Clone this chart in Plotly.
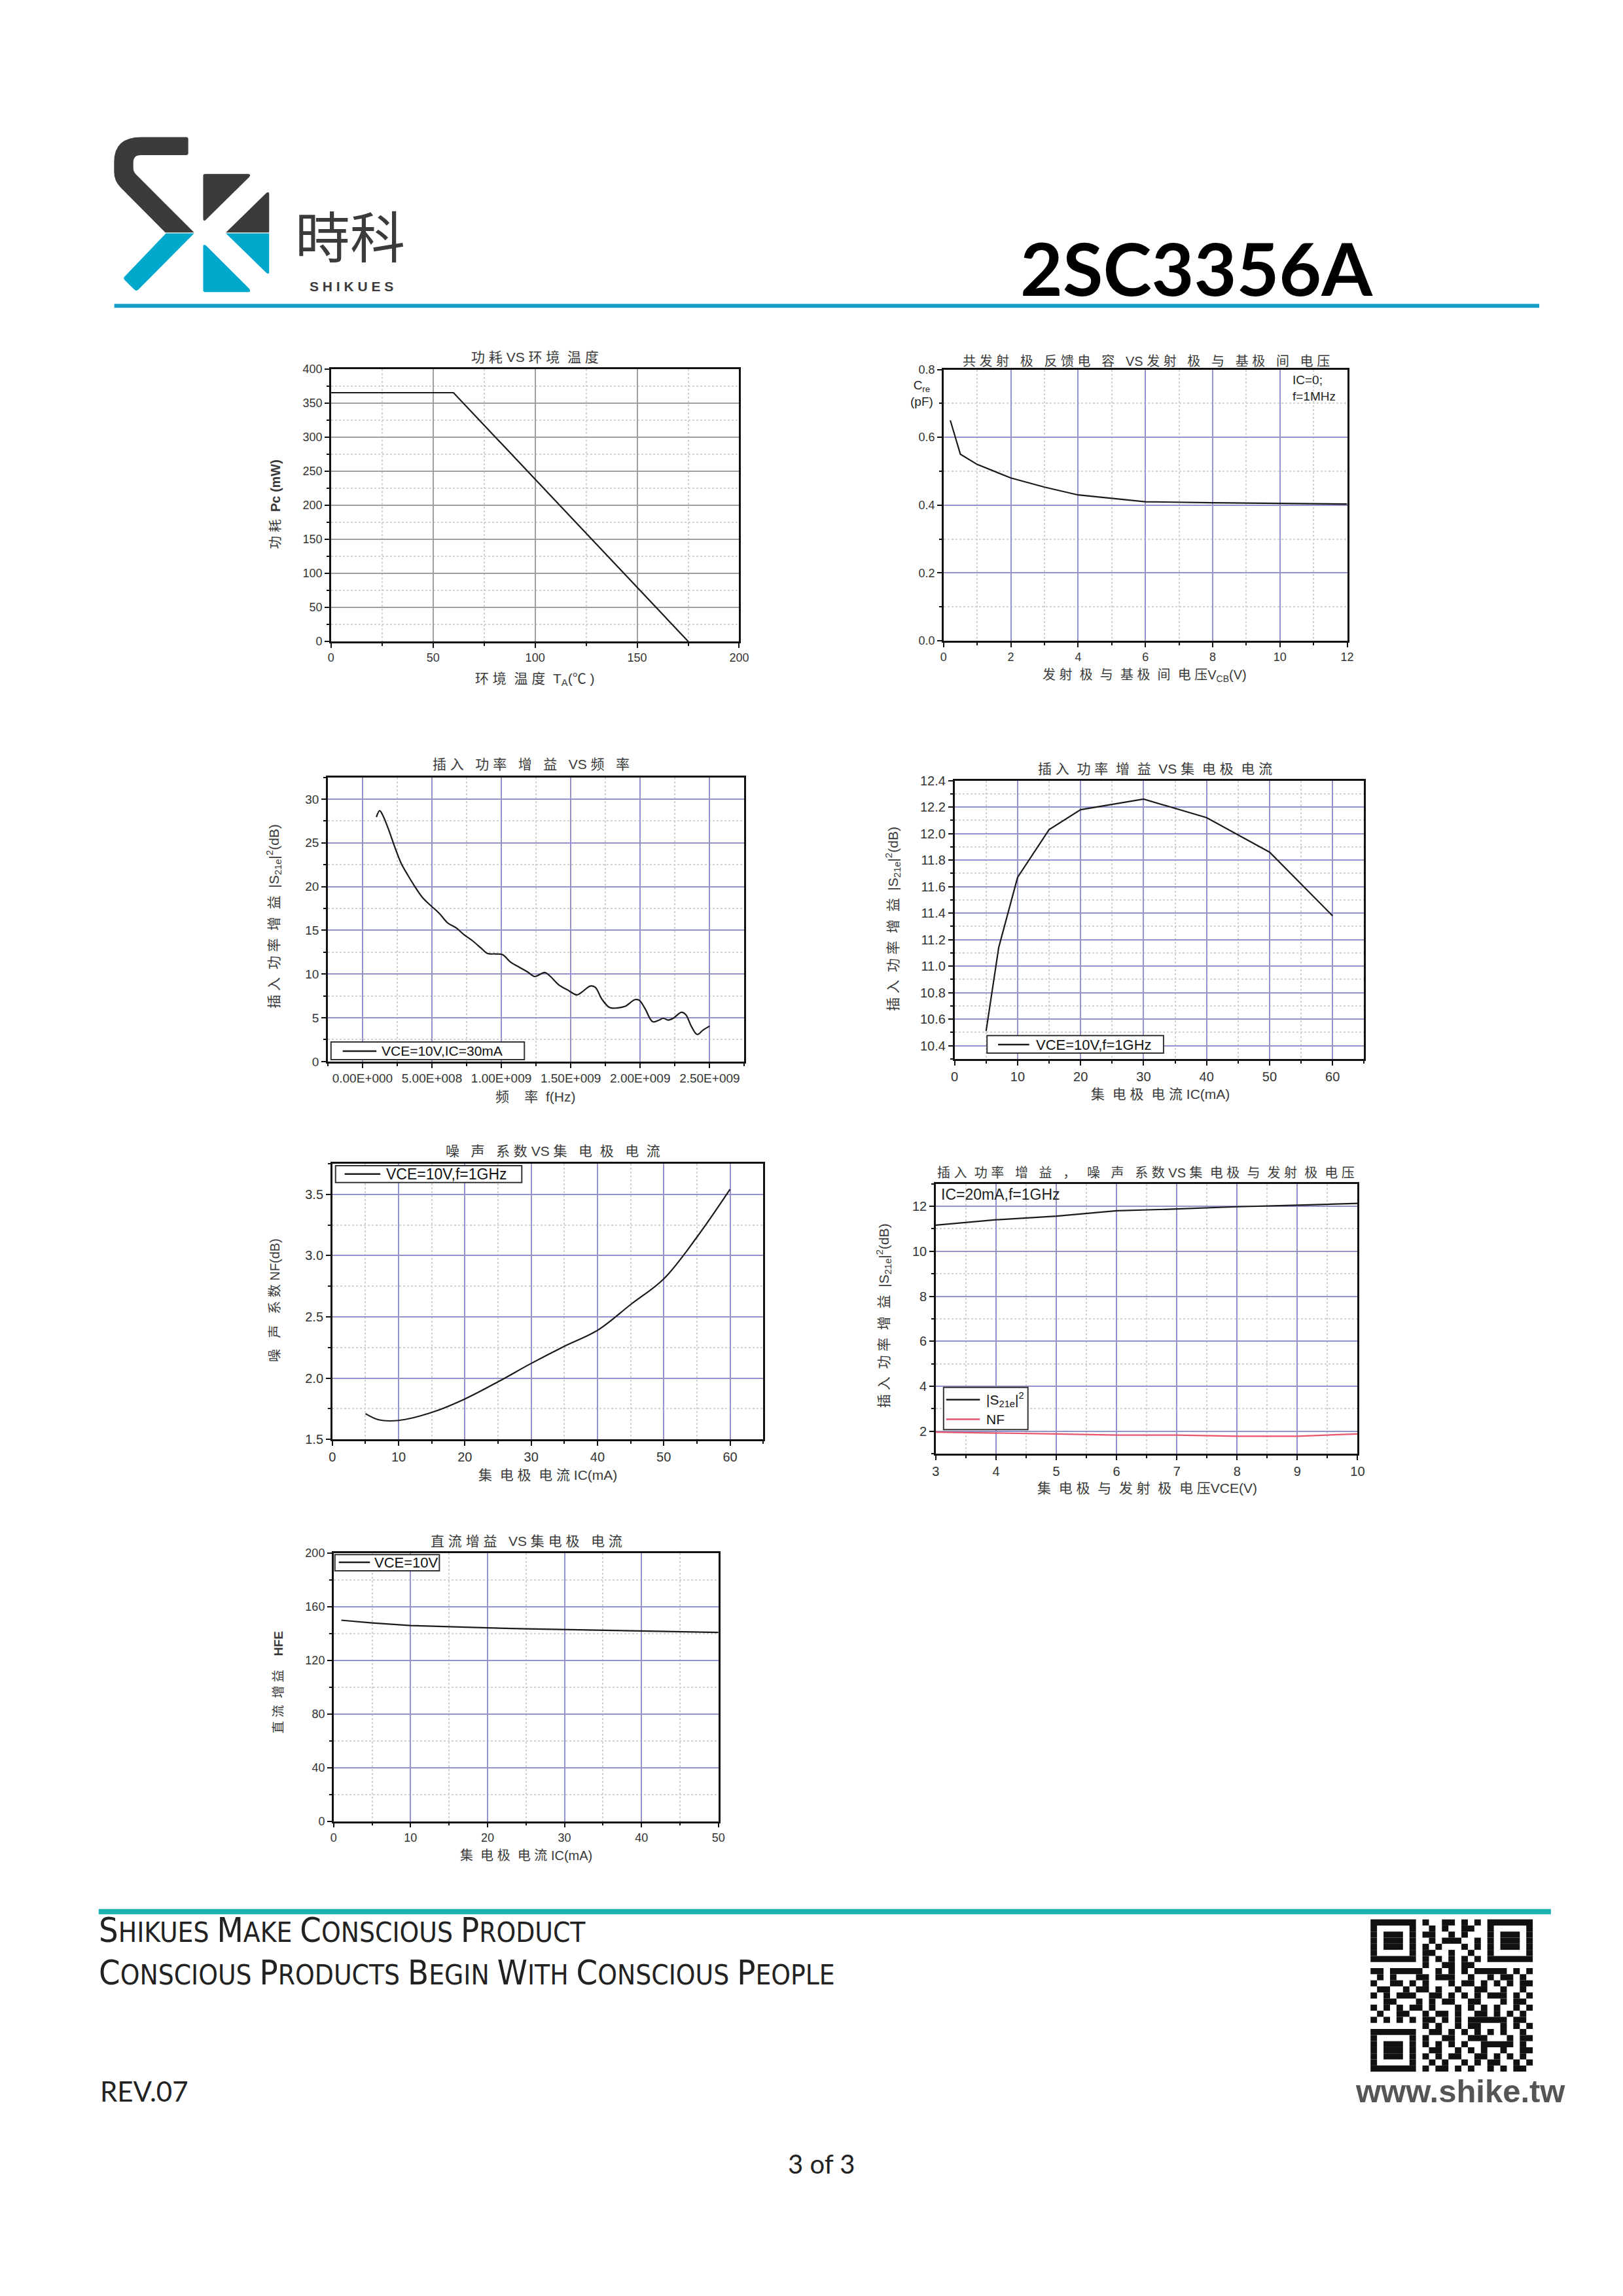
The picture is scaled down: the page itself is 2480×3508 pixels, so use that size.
import plotly.graph_objects as go

W, H = 2480, 3508
LATIN = "Liberation Sans, Arial, sans-serif"
CJK = "Liberation Sans, Noto Sans CJK SC, sans-serif"
NARROW = "Liberation Sans Narrow, Arial Narrow, DejaVu Sans Condensed, sans-serif"
DARK = "#3c3a3a"
CYAN = "#00a9cb"


def px(x):
    return x / W


def py(y):
    return 1 - y / H


# ---------------- data ----------------
ta_c = [0, 60, 175]
pc_mw = [365, 365, 0]

vcb_v = [0.2, 0.5, 1, 2, 3, 4, 5, 6, 8, 10, 12]
cre_pf = [0.65, 0.55, 0.52, 0.48, 0.453, 0.43, 0.42, 0.41, 0.407, 0.405, 0.403]

freq_hz = [1.0e8, 1.24e8, 1.48e8, 1.84e8, 2.32e8, 2.79e8, 3.27e8, 3.75e8, 4.35e8, 4.94e8,
           5.54e8, 6.14e8, 6.73e8, 7.33e8, 7.93e8, 8.53e8, 9.0e8, 9.6e8, 1.008e9, 1.067e9,
           1.127e9, 1.187e9, 1.239e9, 1.27e9, 1.313e9, 1.354e9, 1.414e9, 1.473e9, 1.545e9, 1.581e9,
           1.64e9, 1.676e9, 1.724e9, 1.779e9, 1.832e9, 1.891e9, 1.963e9, 1.994e9, 2.035e9, 2.09e9,
           2.137e9, 2.166e9, 2.202e9, 2.238e9, 2.297e9, 2.328e9, 2.369e9, 2.41e9, 2.452e9, 2.5e9]
gain_f_db = [27.95, 28.69, 28.1, 26.7, 24.55, 22.65, 21.3, 20.06, 18.7, 17.8,
             16.93, 15.84, 15.3, 14.48, 13.8, 12.98, 12.36, 12.3, 12.22, 11.35,
             10.8, 10.26, 9.72, 9.9, 10.18, 9.72, 8.76, 8.22, 7.62, 7.95,
             8.63, 8.49, 7.13, 6.18, 6.12, 6.31, 7.08, 7.0, 6.04, 4.55,
             4.74, 4.95, 4.74, 4.95, 5.63, 5.36, 4.0, 3.1, 3.59, 4.06]
freq_tickvals = [0, 5e8, 1e9, 1.5e9, 2e9, 2.5e9]
freq_ticktext = ["0.00E+000", "5.00E+008", "1.00E+009", "1.50E+009", "2.00E+009", "2.50E+009"]

ic_gain_ma = [5, 7, 10, 15, 20, 30, 40, 50, 60]
gain_ic_db = [10.51, 11.14, 11.67, 12.03, 12.18, 12.26, 12.12, 11.86, 11.38]

ic_nf_ma = [5, 7, 10, 15, 20, 25, 30, 35, 40, 45, 50, 55, 60]
nf_db = [1.71, 1.66, 1.655, 1.72, 1.83, 1.97, 2.12, 2.26, 2.39, 2.60, 2.81, 3.15, 3.54]

vce_v = [3, 4, 5, 6, 7, 8, 9, 10]
s21_vce_db = [11.16, 11.40, 11.56, 11.80, 11.88, 11.98, 12.05, 12.13]
nf_vce_db = [1.96, 1.93, 1.88, 1.83, 1.83, 1.78, 1.78, 1.88]

ic_hfe_ma = [1, 5, 10, 15, 20, 25, 30, 35, 40, 45, 50]
hfe = [150, 148, 146, 145, 144.3, 143.6, 143.1, 142.7, 142.1, 141.5, 140.9]

NF_RED = "#e8546c"

# ---------------- panel boxes (page pixels: left, top, right, bottom) ----------------
panels = [
    (496, 548, 1125, 967),
    (1440, 549, 2062, 966),
    (491, 1176, 1133, 1613),
    (1457, 1181, 2088, 1609),
    (498, 1770, 1162, 2194),
    (1428, 1801, 2078, 2216),
    (500, 2369, 1093, 2781),
]

BLUE_GRID = "#9393cc"
axes = [
    # x: range, dtick, minor ; y: range, dtick, minor, tick0, fmt ; grid ; font size
    dict(x=([0, 200], 50, 25), y=([0, 400], 50, 25, 0, None), grid="#a0a0a0", fs=18),
    dict(x=([0, 12], 2, 1), y=([0, 0.8], 0.2, 0.1, 0, ".1f"), grid=BLUE_GRID, fs=18),
    dict(x=([-2.5e8, 2.75e9], None, 2.5e8), y=([0, 32.5], 5, 2.5, 0, None), grid=BLUE_GRID, fs=19),
    dict(x=([0, 65], 10, 5), y=([10.3, 12.4], 0.2, 0.1, 10.4, ".1f"), grid=BLUE_GRID, fs=20),
    dict(x=([0, 65], 10, 5), y=([1.5, 3.75], 0.5, 0.25, 1.5, ".1f"), grid=BLUE_GRID, fs=20),
    dict(x=([3, 10], 1, 0.5), y=([1, 13], 2, 1, 2, None), grid=BLUE_GRID, fs=20),
    dict(x=([0, 50], 10, 5), y=([0, 200], 40, 20, 0, None), grid=BLUE_GRID, fs=18),
]


def axis(rng, dtick, minor, grid, fs, domain, anchor, tick0=0, fmt=None):
    a = dict(
        domain=domain, anchor=anchor, range=rng, showline=True, mirror=True,
        linecolor="#111", linewidth=2.5, ticks="outside", ticklen=7, tickwidth=2,
        tickcolor="#111", showgrid=True, gridcolor=grid, gridwidth=1.5, zeroline=False,
        tickfont=dict(family=LATIN, size=fs, color="#333"), fixedrange=True,
        minor=dict(tickmode="linear", tick0=0, dtick=minor, ticks="outside", ticklen=4,
                   tickwidth=1.5, tickcolor="#111", showgrid=True, gridcolor="#d2d2d2",
                   griddash="dot", gridwidth=1.5),
    )
    if dtick is not None:
        a.update(tickmode="linear", tick0=tick0, dtick=dtick)
    if fmt:
        a["tickformat"] = fmt
    return a


fig = go.Figure()
layout = dict(width=W, height=H, margin=dict(l=0, r=0, t=0, b=0),
              paper_bgcolor="white", plot_bgcolor="white", showlegend=False)

for i, (box, spec) in enumerate(zip(panels, axes), start=1):
    l, t, r, b = box
    sfx = "" if i == 1 else str(i)
    xr, xd, xm = spec["x"]
    yr, yd, ym, y0, yf = spec["y"]
    layout["xaxis" + sfx] = axis(xr, xd, xm, spec["grid"], spec["fs"], [px(l), px(r)], "y" + sfx)
    layout["yaxis" + sfx] = axis(yr, yd, ym, spec["grid"], spec["fs"], [py(b), py(t)], "x" + sfx,
                                 tick0=y0, fmt=yf)

layout["xaxis3"].update(tickmode="array", tickvals=freq_tickvals, ticktext=freq_ticktext)

LINE = dict(color="#1a1a1a", width=2.2)


def add(x, y, n, name, color=None, shape="linear"):
    sfx = "" if n == 1 else str(n)
    line = dict(LINE, shape=shape)
    if color:
        line["color"] = color
    fig.add_trace(go.Scatter(x=x, y=y, mode="lines", line=line, name=name,
                             xaxis="x" + sfx, yaxis="y" + sfx, hoverinfo="skip"))


add(ta_c, pc_mw, 1, "Pc")
add(vcb_v, cre_pf, 2, "Cre")
add(freq_hz, gain_f_db, 3, "VCE=10V,IC=30mA", shape="spline")
add(ic_gain_ma, gain_ic_db, 4, "VCE=10V,f=1GHz")
add(ic_nf_ma, nf_db, 5, "VCE=10V,f=1GHz", shape="spline")
add(vce_v, s21_vce_db, 6, "|S21e|2")
add(vce_v, nf_vce_db, 6, "NF", color=NF_RED)
add(ic_hfe_ma, hfe, 7, "VCE=10V")

shapes = []
annotations = []


def text(txt, x, y, size, family=CJK, color="#3a3a3a", angle=0, xa="center", ya="middle",
         align="center"):
    annotations.append(dict(text=txt, x=px(x), y=py(y), xref="paper", yref="paper",
                            showarrow=False, textangle=angle, xanchor=xa, yanchor=ya,
                            align=align, font=dict(family=family, size=size, color=color)))


# ---------------- legends drawn as in the original (box, long line sample, label) ----------------
legends = [
    # box (l, t, r, b), line x0, x1, label x, size, entries [(y, colour, label)]
    ((496, 1583, 794, 1610), 514, 566, 572, 21, [(1597, "#1a1a1a", "VCE=10V,IC=30mA")]),
    ((1507, 1573, 1779, 1600), 1524, 1572, 1580, 22, [(1587, "#1a1a1a", "VCE=10V,f=1GHz")]),
    ((503, 1773, 790, 1799), 517, 572, 579, 23, [(1786, "#1a1a1a", "VCE=10V,f=1GHz")]),
    ((1440, 2114, 1570, 2179), 1444, 1496, 1504, 21,
     [(2133, "#1a1a1a", "|S<sub>21e</sub>|<sup>2</sup>"), (2163, NF_RED, "NF")]),
    ((502, 2371, 663, 2396), 508, 556, 561, 22, [(2383, "#1a1a1a", "VCE=10V")]),
]
for (l, t, r, b), lx0, lx1, tx, size, entries in legends:
    shapes.append(dict(type="rect", xref="paper", yref="paper", x0=px(l), x1=px(r),
                       y0=py(b), y1=py(t), fillcolor="white",
                       line=dict(color="#333", width=2)))
    for y, color, label in entries:
        shapes.append(dict(type="line", xref="paper", yref="paper", x0=px(lx0), x1=px(lx1),
                           y0=py(y), y1=py(y), line=dict(color=color, width=2.5)))
        text(label, tx, y, size, family=LATIN, color="#111", xa="left")

# ---------------- chart texts ----------------
texts = [
    # text, x, y, angle, size
    ("功 耗 VS 环 境  温 度", 810, 530, 0, 21),
    ("功 耗  <b>Pc (mW)</b>", 411, 756, -90, 20),
    ("环 境  温 度  T<sub>A</sub>(℃ )", 810, 1025, 0, 21),
    ("共 发 射   极   反 馈 电   容   VS 发 射   极   与   基 极   间   电 压", 1752, 536, 0, 20),
    ("发 射  极  与  基 极  间  电 压V<sub>CB</sub>(V)", 1750, 1020, 0, 20),
    ("插 入   功 率   增   益   VS 频   率", 804, 1156, 0, 21),
    ("插 入  功 率  增  益  |S<sub>21e</sub>|<sup>2</sup>(dB)", 408, 1390, -90, 21),
    ("频    率  f(Hz)", 811, 1667, 0, 21),
    ("插 入  功 率  增  益  VS 集  电 极  电 流", 1766, 1163, 0, 21),
    ("插 入  功 率  增  益  |S<sub>21e</sub>|<sup>2</sup>(dB)", 1362, 1393, -90, 21),
    ("集  电 极  电 流 IC(mA)", 1774, 1663, 0, 21),
    ("噪   声   系 数 VS 集   电  极   电  流", 838, 1750, 0, 21),
    ("噪   声   系 数 NF(dB)", 409, 1980, -90, 20),
    ("集  电 极  电 流 IC(mA)", 830, 2249, 0, 21),
    ("插 入  功 率   增   益   ，   噪   声   系 数 VS 集  电 极  与  发 射  极  电 压", 1752, 1784, 0, 20),
    ("插 入  功 率  增  益  |S<sub>21e</sub>|<sup>2</sup>(dB)", 1348, 2004, -90, 21),
    ("集  电 极  与  发 射  极  电 压VCE(V)", 1754, 2269, 0, 21),
    ("直 流 增 益   VS 集 电 极   电 流", 797, 2350, 0, 21),
    ("直 流  增 益    <b>HFE</b>", 415, 2567, -90, 19),
    ("集  电 极  电 流 IC(mA)", 797, 2834, 0, 20),
]
for txt, x, y, ang, size in texts:
    text(txt, x, y, size, angle=ang)

text("C<sub>re</sub><br>(pF)", 1406, 586, 19, family=LATIN, color="#222")
text("IC=0;<br>f=1MHz", 2046, 552, 19, family=LATIN, color="#222", xa="right", ya="top",
     align="left")
text("IC=20mA,f=1GHz", 1434, 1817, 23, family=LATIN, color="#222", xa="left")

# ---------------- page header ----------------


def path(cmds, ox=150, oy=180, s=1 / 3):
    out = []
    for c in cmds:
        op, pts = c[0], c[1:]
        coords = " ".join(f"{px(ox + x * s):.5f},{py(oy + y * s):.5f}" for x, y in pts)
        out.append(f"{op} {coords}")
    return " ".join(out) + " Z"


logo = [
    (DARK, [("M", (160, 35)), ("L", (368, 35)), ("Q", (378, 35), (378, 45)), ("L", (378, 108)),
            ("Q", (378, 118), (368, 118)), ("L", (158, 118)), ("Q", (124, 118), (124, 152)),
            ("L", (124, 178)), ("Q", (124, 196), (138, 209)), ("L", (405, 475)), ("L", (272, 475)),
            ("L", (66, 268)), ("Q", (35, 238), (35, 196)), ("L", (35, 150)),
            ("Q", (35, 35), (160, 35))]),
    (CYAN, [("M", (275, 479)), ("L", (405, 479)), ("L", (148, 738)), ("Q", (138, 748), (128, 738)),
            ("L", (84, 694)), ("Q", (76, 686), (84, 678))]),
    (DARK, [("M", (447, 213)), ("Q", (447, 205), (456, 205)), ("L", (655, 205)),
            ("Q", (670, 207), (660, 219)), ("L", (458, 418)), ("Q", (447, 426), (447, 412))]),
    (DARK, [("M", (552, 475)), ("L", (740, 292)), ("Q", (752, 284), (752, 300)), ("L", (752, 475))]),
    (CYAN, [("M", (552, 479)), ("L", (752, 479)), ("L", (752, 655)), ("Q", (752, 672), (738, 660))]),
    (CYAN, [("M", (447, 541)), ("Q", (447, 526), (461, 536)), ("L", (660, 734)),
            ("Q", (670, 750), (655, 750)), ("L", (456, 750)), ("Q", (447, 750), (447, 741))]),
]
for color, cmds in logo:
    shapes.append(dict(type="path", xref="paper", yref="paper", path=path(cmds),
                       fillcolor=color, line=dict(width=0)))

shapes.append(dict(type="line", xref="paper", yref="paper", x0=px(162), x1=px(2358),
                   y0=py(451), y1=py(451), line=dict(color="#139fc5", width=6)))
shapes.append(dict(type="line", xref="paper", yref="paper", x0=px(138), x1=px(2376),
                   y0=py(2920), y1=py(2920), line=dict(color="#1ab2b2", width=8)))

text("時科", 525, 341, 84, family="Noto Sans CJK TC, Noto Sans CJK SC", color=DARK)
text("<b>S H I K U E S</b>", 527, 421, 21, family=LATIN, color=DARK)
text("<b>2SC3356A</b>", 1830, 392, 112, family="Lato, " + NARROW, color="#000")

# ---------------- page footer ----------------


def small_caps(txt, big):
    words = []
    for w in txt.split(" "):
        words.append(f"<span style='font-size:{big}px'>{w[0]}</span>{w[1:].upper()}")
    return " ".join(words)


text(small_caps("Shikues Make Conscious Product", 52), 136, 2948, 42, family=NARROW,
     color="#222", xa="left")
text(small_caps("Conscious Products Begin With Conscious People", 52), 136, 3014, 42,
     family=NARROW, color="#222", xa="left")
text("REV.07", 138, 3196, 42, family="Lato, " + LATIN, color="#222", xa="left")
text("<b>www.shike.tw</b>", 2236, 3196, 49, family=LATIN, color="#555")
text("3 of 3", 1252, 3308, 40, family="Lato, " + LATIN, color="#222")

qr_rows = [
    "#######.#..##.#.#.#######",
    "#.....#..#.#..##..#.....#",
    "#.###.#.##..#.#...#.###.#",
    "#.###.#..#.###..#.#.###.#",
    "#.###.#.#.#...#.#.#.###.#",
    "#.....#.##..#..#..#.....#",
    "#######.#.#.#.#.#.#######",
    "........#..##.##.........",
    "##.#####..#.#.#.#####.#.#",
    ".#.#...##.###..#..#.##.#.",
    "#..##.#.#...#.##.#.#.#.##",
    ".##..#.##.#..#..##..#..#.",
    "#.#.###..##.#.#.#.###.#.#",
    "..##...#.#.##..##...#.##.",
    "#.#.#.##.#...#.#.#.#..#.#",
    ".#..##..#.##.#..##.#.#.#.",
    "#.#.#.#.##.#.#.######.##.",
    "........#.#..#.##...#.#.#",
    "#######..##.#.#.#.#.#..#.",
    "#.....#.#..##..###...#.##",
    "#.###.#.#.#.#.#..#####.#.",
    "#.###.#..##..#.#.#..#..##",
    "#.###.#.#.#.##..##.#.#.#.",
    "#.....#..#.#..#.#.##..#.#",
    "#######.#.##.#.#..#.#.##.",
]
qx0, qy0, qx1, qy1 = 2098, 2932, 2348, 3166
n = len(qr_rows)
cw, ch = (qx1 - qx0) / n, (qy1 - qy0) / n
for r, row in enumerate(qr_rows):
    c = 0
    while c < n:
        if row[c] == "#":
            s = c
            while c < n and row[c] == "#":
                c += 1
            shapes.append(dict(type="rect", xref="paper", yref="paper",
                               x0=px(qx0 + s * cw), x1=px(qx0 + c * cw),
                               y0=py(qy0 + r * ch), y1=py(qy0 + (r + 1) * ch),
                               fillcolor="#111", line=dict(width=0)))
        else:
            c += 1

layout["shapes"] = shapes
layout["annotations"] = annotations
fig.update_layout(layout)
fig.write_html("out.html")
